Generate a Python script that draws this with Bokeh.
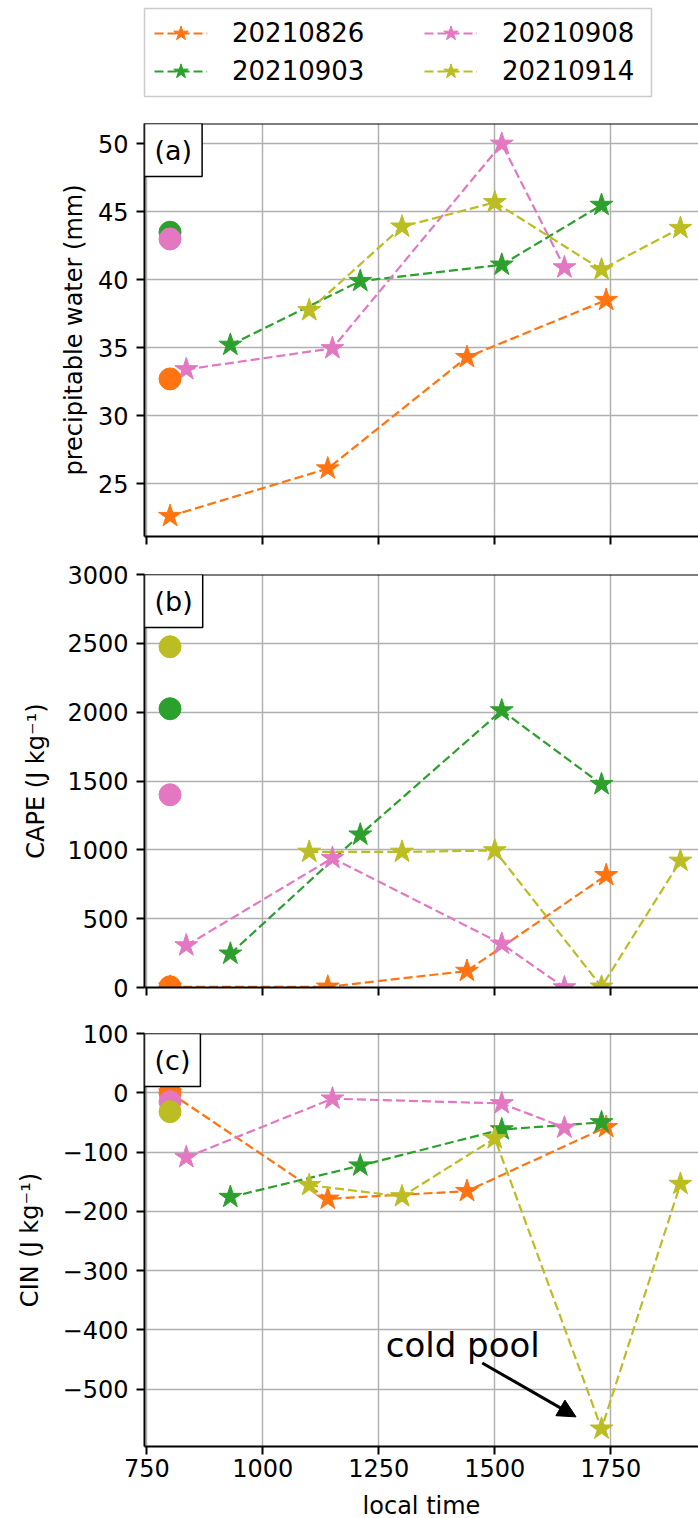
from bokeh.plotting import figure
from bokeh.layouts import column
from bokeh.models import (ColumnDataSource, Range1d, FixedTicker, Label, Span, Arrow,
                          NormalHead, Legend, LegendItem, CustomJSTickFormatter)
from bokeh.embed import file_html
from bokeh.resources import INLINE

nan = float("nan")

# ---------------- data ----------------
dates = ["20210826", "20210903", "20210908", "20210914"]
colors = ["#ff7410", "#2ca02c", "#e377c2", "#bcbd22"]

time_0826 = [800, 1140, 1440, 1740]
time_0903 = [930, 1210, 1515, 1730]
time_0908 = [835, 1150, 1515, 1650]
time_0914 = [1100, 1300, 1500, 1730, 1900]

pw_0826 = [22.6, 26.1, 34.3, 38.5]
pw_0903 = [35.2, 39.9, 41.1, 45.5]
pw_0908 = [33.4, 34.95, 50.0, 40.9]
pw_0914 = [37.75, 43.9, 45.7, 40.75, 43.8]

cape_0826 = [5, 5, 120, 815]
cape_0903 = [245, 1110, 2012, 1476]
cape_0908 = [305, 940, 317, 0]
cape_0914 = [985, 985, 995, 5, 920]

cin_0826 = [0, -179, -166, -58]
cin_0903 = [-176, -123, -62, -50]
cin_0908 = [-109, -10, -18, -59]
cin_0914 = [-156, -175, -77, -567, -154]

circle_time = 800
pw_circle = [32.7, 43.5, 43.0, nan]
cape_circle = [5, 2025, 1400, 2475]
cin_circle = [0, nan, -15, -32]

x_ticks = [750, 1000, 1250, 1500, 1750]
pw_ticks = [25, 30, 35, 40, 45, 50]
cape_ticks = [0, 500, 1000, 1500, 2000, 2500, 3000]
cin_ticks = [100, 0, -100, -200, -300, -400, -500]

x_lim = (745, 1939)
pw_lim = (21.1, 51.5)
cape_lim = (0, 3000)
cin_lim = (-597, 100)

panel_tags = ["(a)", "(b)", "(c)"]
y_labels = ["precipitable water (mm)", "CAPE (J kg\u207b\u00b9)", "CIN (J kg\u207b\u00b9)"]

note_text = "cold pool"
note_pos = (1265, -426)
arrow_start = (1473, -456)
arrow_end = (1675, -547)

times = [time_0826, time_0903, time_0908, time_0914]
pw = [pw_0826, pw_0903, pw_0908, pw_0914]
cape = [cape_0826, cape_0903, cape_0908, cape_0914]
cin = [cin_0826, cin_0903, cin_0908, cin_0914]

FONT = "DejaVu Sans"
DASH = "9 4"
STAR = 24
DOT = 22

minus_fmt = CustomJSTickFormatter(code="return tick < 0 ? '\\u2212' + (-tick) : '' + tick;")


def make_panel(series, circles, ylim, yticks, ylabel, tag, top, bottom, last, ylab_standoff):
    p = figure(frame_width=554, frame_height=413,
               x_range=Range1d(*x_lim), y_range=Range1d(*ylim),
               min_border_left=144, min_border_right=0,
               min_border_top=top, min_border_bottom=bottom,
               output_backend="svg", toolbar_location=None)
    p.outline_line_color = None
    p.background_fill_color = "white"

    for t, v, c in zip(times, series, colors):
        src = ColumnDataSource(dict(x=t, y=v))
        p.line("x", "y", source=src, line_color=c, line_width=2.2, line_dash=DASH)
        p.scatter("x", "y", source=src, marker="star", size=STAR,
                  fill_color=c, line_color=c)
    for v, c in zip(circles, colors):
        src = ColumnDataSource(dict(x=[circle_time], y=[v]))
        p.scatter("x", "y", source=src, marker="circle", size=DOT,
                  fill_color=c, line_color=c)

    for ax in (p.xaxis, p.yaxis):
        ax.axis_line_width = 2
        ax.axis_line_color = "black"
        ax.major_tick_line_width = 2
        ax.major_tick_line_color = "black"
        ax.major_tick_in = 0
        ax.major_tick_out = 8
        ax.minor_tick_line_color = None
        ax.major_label_text_font = FONT
        ax.major_label_text_font_size = "24px"
        ax.major_label_text_color = "black"
        ax.axis_label_text_font = FONT
        ax.axis_label_text_font_size = "24px"
        ax.axis_label_text_font_style = "normal"
        ax.axis_label_text_color = "black"

    p.xaxis.ticker = FixedTicker(ticks=x_ticks)
    p.yaxis.ticker = FixedTicker(ticks=yticks)
    p.yaxis.formatter = minus_fmt
    p.yaxis.axis_label = ylabel
    p.yaxis.major_label_standoff = 8
    p.yaxis.axis_label_standoff = ylab_standoff
    if last:
        p.xaxis.axis_label = "local time"
        p.xaxis.major_label_standoff = 4
        p.xaxis.axis_label_standoff = 12
    else:
        p.xaxis.major_label_text_color = None
        p.xaxis.major_label_standoff = 0

    for g in (p.xgrid, p.ygrid):
        g.grid_line_color = "#b0b0b0"
        g.grid_line_width = 1.5

    p.add_layout(Span(location=ylim[1], dimension="width", line_color="black", line_width=2))

    p.add_layout(Label(x=x_lim[0], y=ylim[1], text=tag, anchor="top_left",
                       text_font=FONT, text_font_size="27px", text_color="black",
                       background_fill_color="white", border_line_color="black",
                       border_line_width=1.5, padding=(10, 11)))
    return p


pa = make_panel(pw, pw_circle, pw_lim, pw_ticks, y_labels[0], panel_tags[0], 23, 17, False, 7)
pb = make_panel(cape, cape_circle, cape_lim, cape_ticks, y_labels[1], panel_tags[1], 21, 22, False, 14)
pc = make_panel(cin, cin_circle, cin_lim, cin_ticks, y_labels[2], panel_tags[2], 24, 72, True, 16)

pc.add_layout(Label(x=note_pos[0], y=note_pos[1], text=note_text, text_align="left",
                    text_baseline="alphabetic", text_font=FONT, text_font_size="34px",
                    text_color="black"))
pc.add_layout(Arrow(end=NormalHead(size=18, fill_color="black", line_color="black"),
                    x_start=arrow_start[0], y_start=arrow_start[1],
                    x_end=arrow_end[0], y_end=arrow_end[1],
                    line_color="black", line_width=3))

# ---------------- legend figure ----------------
lg = figure(frame_width=507, frame_height=88, x_range=Range1d(0, 1), y_range=Range1d(0, 1),
            min_border_left=140, min_border_right=51, min_border_top=8, min_border_bottom=4,
            x_axis_location=None, y_axis_location=None,
            output_backend="svg", toolbar_location=None)
lg.grid.visible = False
lg.outline_line_color = "#cccccc"
lg.outline_line_width = 1.5

items = []
for d, c, t, v in zip(dates, colors, times, pw):
    # series data lies outside this figure's 0..1 ranges: only the legend glyphs show
    src = ColumnDataSource(dict(x=t, y=v))
    lr = lg.line("x", "y", source=src, line_color=c, line_width=2.2, line_dash=DASH)
    sr = lg.scatter("x", "y", source=src, marker="star", size=STAR, fill_color=c, line_color=c)
    items.append(LegendItem(label=d, renderers=[lr, sr]))

leg = Legend(items=items, location="left", orientation="vertical", nrows=2,
             padding=0, margin=10, spacing=0, glyph_width=53, glyph_height=38,
             label_width=192, label_standoff=25, label_text_font=FONT,
             label_text_font_size="26px", label_text_color="black",
             background_fill_alpha=0, border_line_color=None)
lg.add_layout(leg)

layout = column(lg, pa, pb, pc, spacing=0)
open("out.html", "w").write(file_html(layout, INLINE))
